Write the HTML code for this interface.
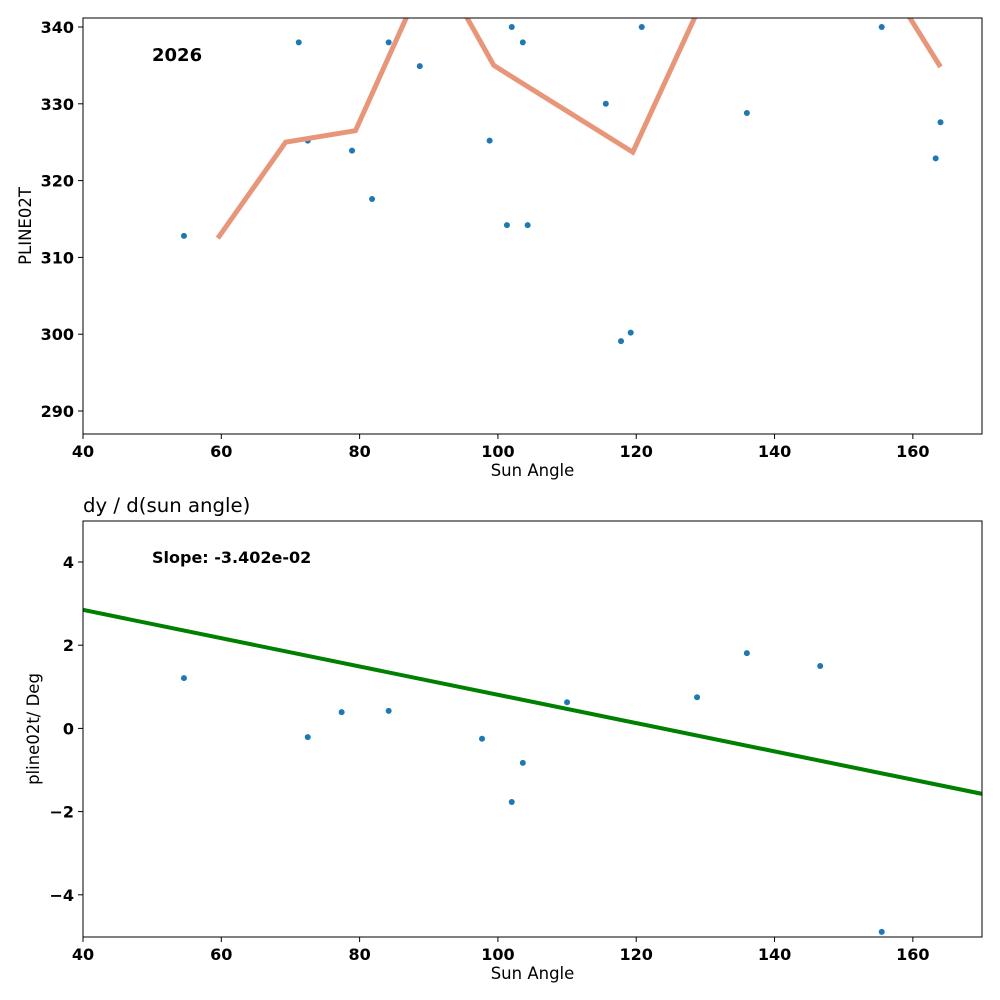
<!DOCTYPE html>
<html><head><meta charset="utf-8">
<style>
html,body{margin:0;padding:0;background:#fff;}
svg{display:block;font-family:"DejaVu Sans","Liberation Sans",sans-serif;}
.tick{font-size:16px;font-weight:bold;fill:#000;}
.lab{font-size:16.5px;fill:#000;}
</style></head>
<body>
<svg id="chart" width="1000" height="1000" viewBox="0 0 1000 1000"></svg>
<script>
// Top panel data
const topX = [54.6,71.2,72.5,78.9,81.8,84.2,88.7,98.8,101.3,102.0,103.6,104.3,115.6,117.8,119.2,120.8,136.0,155.5,163.3,164.0];
const topY = [312.8,338.0,325.2,323.9,317.6,338.0,334.9,325.2,314.2,340.0,338.0,314.2,330.0,299.1,300.2,340.0,328.8,340.0,322.9,327.6];
const lineX = [59.5,69.3,79.4,88.8,94.6,99.4,119.5,136.0,155.6,164.0];
const lineY = [312.5,325.0,326.5,345.3,342.7,335.0,323.7,356.0,346.9,334.8];
const topYTicks = [290,300,310,320,330,340];
const xTicks = [40,60,80,100,120,140,160];
// Bottom panel data
const botX = [54.6,72.5,77.4,84.2,97.7,102.0,103.6,110.0,128.8,136.0,146.6,155.5];
const botY = [1.21,-0.21,0.39,0.42,-0.25,-1.77,-0.83,0.63,0.75,1.81,1.5,-4.89];
const slope = -0.03402;
const intercept = 4.21;
const botYTicks = [-4,-2,0,2,4];
const botYLabels = ["\u22124","\u22122","0","2","4"];

const NS="http://www.w3.org/2000/svg";
const svg=document.getElementById('chart');
function mk(tag,attrs,parent){const e=document.createElementNS(NS,tag);for(const k in attrs)e.setAttribute(k,attrs[k]);(parent||svg).appendChild(e);return e;}

const L=83,R=982;
const sx=v=>L+(v-40)*(R-L)/130;
const T1=18,B1=434; const sy1=v=>411-(v-290)*7.68;
const T2=521,B2=937; const sy2=v=>562-(v-4)*41.6;

function panel(T,B,sy,yt,ylabels,name){
  const g=mk('g',{});
  
  
  const cid='clip-'+name;
  const cp=mk('clipPath',{id:cid},g); mk('rect',{x:L,y:T,width:R-L,height:B-T},cp);
  xTicks.forEach(v=>{
    const x=sx(v);
    mk('line',{x1:x,x2:x,y1:B,y2:B+5,stroke:'#000','stroke-width':1},g);
    const t=mk('text',{x:x,y:B+23,'text-anchor':'middle',class:'tick'},g); t.textContent=v;
    
    
  });
  yt.forEach((v,i)=>{
    const y=sy(v);
    mk('line',{x1:L-5,x2:L,y1:y,y2:y,stroke:'#000','stroke-width':1},g);
    const t=mk('text',{x:L-9,y:y+6,'text-anchor':'end',class:'tick'},g); t.textContent=ylabels[i];
    
    
  });
  const xl=mk('text',{x:(L+R)/2,y:B+42,'text-anchor':'middle',class:'lab'},g); xl.textContent='Sun Angle';
  
  
  return {g,cid};
}

// Top
const p1=panel(T1,B1,sy1,topYTicks,topYTicks.map(String),'top-panel');
const yl1=mk('text',{x:0,y:0,transform:`translate(31,${(T1+B1)/2}) rotate(-90)`,'text-anchor':'middle',class:'lab'},p1.g); yl1.textContent='PLINE02T';


const cg1=mk('g',{'clip-path':`url(#${p1.cid})`},p1.g);
topX.forEach((x,i)=>{const c=mk('circle',{cx:sx(x),cy:sy1(topY[i]),r:3,fill:'#1f77b4'},cg1);
  
  });
const pl=mk('polyline',{points:lineX.map((x,i)=>sx(x)+','+sy1(lineY[i])).join(' '),fill:'none',stroke:'#e8967a','stroke-width':5,'stroke-linejoin':'miter'},cg1);


mk('rect',{x:L,y:T1,width:R-L,height:B1-T1,fill:'none',stroke:'#000','stroke-width':1},p1.g);
const yr=mk('text',{x:152,y:61,style:'font-size:18px;font-weight:bold'},p1.g); yr.textContent='2026';



// Bottom
const p2=panel(T2,B2,sy2,botYTicks,botYLabels,'bottom-panel');
const yl2=mk('text',{x:0,y:0,transform:`translate(39,${(T2+B2)/2}) rotate(-90)`,'text-anchor':'middle',class:'lab'},p2.g); yl2.textContent='pline02t/ Deg';


const tt=mk('text',{x:83,y:512,style:'font-size:19.7px'},p2.g); tt.textContent='dy / d(sun angle)';


const cg2=mk('g',{'clip-path':`url(#${p2.cid})`},p2.g);
botX.forEach((x,i)=>{const c=mk('circle',{cx:sx(x),cy:sy2(botY[i]),r:3,fill:'#1f77b4'},cg2);
  
  });
const fl=mk('line',{x1:sx(40),y1:sy2(intercept+slope*40),x2:sx(170),y2:sy2(intercept+slope*170),stroke:'#008000','stroke-width':4},cg2);


mk('rect',{x:L,y:T2,width:R-L,height:B2-T2,fill:'none',stroke:'#000','stroke-width':1},p2.g);
const st=mk('text',{x:152,y:563,style:'font-size:16px;font-weight:bold'},p2.g); st.textContent='Slope: -3.402e-02';


</script>
</body></html>
